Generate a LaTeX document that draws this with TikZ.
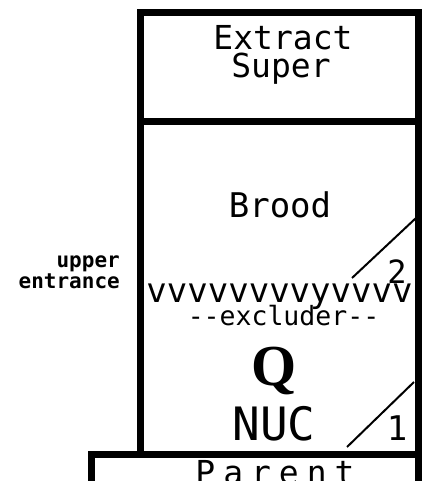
\documentclass[tikz,border=0pt]{standalone}
\usepackage{fontspec}
\setmonofont{DejaVu Sans Mono}
\newfontfamily\qfont{Liberation Serif}
\newcommand\fs[1]{\fontsize{#1}{#1}\selectfont\ttfamily}
\newcommand\gap{\hspace{8pt}}
\begin{document}
\begin{tikzpicture}[x=1pt,y=-1pt,
  wall/.style={line width=7pt,line cap=rect,line join=miter},
  split/.style={line width=2pt},
  lbl/.style={inner sep=0pt,anchor=base}]
\useasboundingbox (0,0) rectangle (422,481);
\clip (0,0) rectangle (422,481);

% hive bodies: extract super on top of the brood box
\draw[wall] (140.5,12.5) rectangle (418.5,454.5);
\draw[wall] (140.5,121.5) -- (418.5,121.5);
% parent box below
\draw[wall] (91,495) -- (91,454.5) -- (418,454.5) -- (418,495);

% corner splits with their numbers
\coordinate (s2a) at (352,278);
\coordinate (s2b) at (416,218);
\coordinate (s1a) at (347,447);
\coordinate (s1b) at (414,382);
\draw[split] (s2a) -- (s2b);
\draw[split] (s1a) -- (s1b);
\node[lbl] (two) at (397,283) {\fs{32}2};
\node[lbl] (one) at (397,440) {\fs{34}1};

% box labels
\node[lbl] (extract) at (283,50) {\fs{33}Extract};
\node[lbl] (super) at (281,78) {\fs{33}Super};
\node[lbl] (brood) at (280,217) {\fs{34}Brood};
\node[lbl] (vrow) at (279.5,302) {\fs{34}vvvvvvvvyvvvv};
\node[lbl] (excl) at (283.5,325) {\fs{26.5}-{}-excluder-{}-};
\node[lbl] (queen) at (274,385) {\fontsize{58}{58}\selectfont\qfont\bfseries Q};
\node[lbl] (nuc) at (274,440) {\fs{46}NUC};
\node[lbl] (parent) at (275,484) {\fs{33}P\gap a\gap r\gap e\gap n\gap t};

% side note
\node[lbl,anchor=base east] (upper) at (120,267) {\fs{21}\bfseries upper};
\node[lbl,anchor=base east] (entr) at (120,288) {\fs{21}\bfseries entrance};
\end{tikzpicture}
\end{document}
